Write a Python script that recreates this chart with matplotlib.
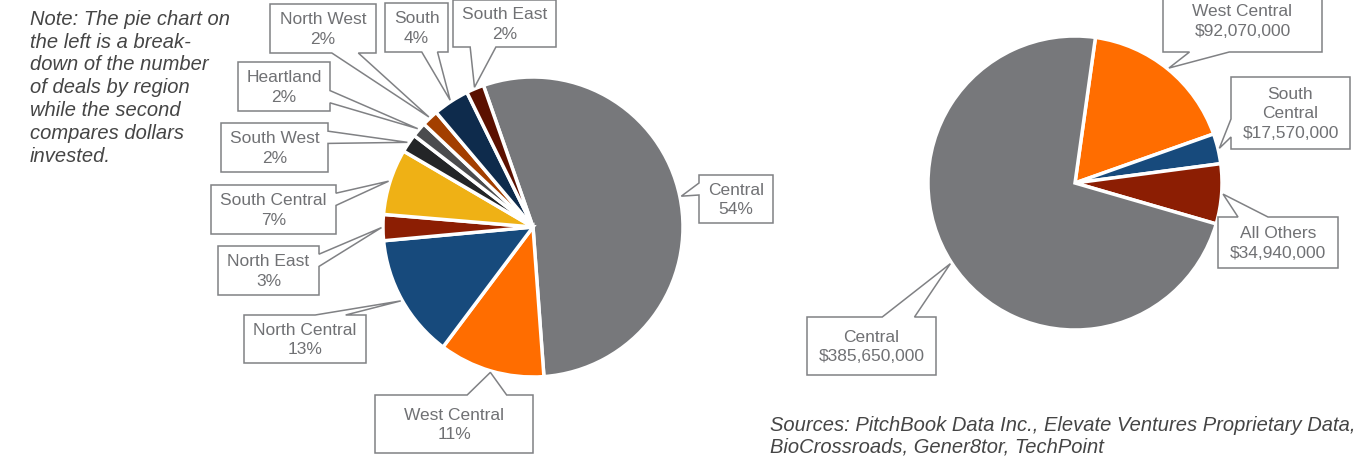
import matplotlib
matplotlib.use("Agg")
import matplotlib.pyplot as plt
from matplotlib.patches import Polygon
import numpy as np

# deals by region (share of deal count, %)
deal_regions = ['Central', 'West Central', 'North Central', 'North East', 'South Central',
                'South West', 'Heartland', 'North West', 'South', 'South East']
deal_share = [54.2, 11.4, 13.3, 2.8, 7.1, 2.0, 1.6, 1.8, 3.9, 1.9]
deal_colors = ['#77787b', '#ff6d00', '#174a7c', '#8c1e03', '#efb115',
               '#232527', '#4b4c4e', '#a33f00', '#0e2b4c', '#5b1000']

# dollars invested by region
invest_regions = ['West Central', 'South Central', 'All Others', 'Central']
invest_names = ['West Central', 'South\nCentral', 'All Others', 'Central']
invest_dollars = [92070000, 17570000, 34940000, 385650000]
invest_colors = ['#ff6d00', '#174a7c', '#8c1e03', '#77787b']

note_text = ("Note: The pie chart on\nthe left is a break-\ndown of the number\n"
             "of deals by region\nwhile the second\ncompares dollars\ninvested.")
source_text = ("Sources: PitchBook Data Inc., Elevate Ventures Proprietary Data,\n"
               "BioCrossroads, Gener8tor, TechPoint")

# layout, in pixels from the top-left corner
W, H = 1366, 460
left_pie = (533, 228, 150)
right_pie = (1075, 184, 147)
left_boxes = {
    'Central': (699, 176, 773, 224),
    'West Central': (375, 396, 533, 454),
    'North Central': (244, 316, 366, 364),
    'North East': (218, 247, 319, 296),
    'South Central': (211, 186, 336, 235),
    'South West': (221, 124, 328, 173),
    'Heartland': (238, 63, 330, 112),
    'North West': (270, 5, 376, 54),
    'South': (385, 4, 448, 53),
    'South East': (453, 1, 556, 48),
}
right_boxes = {
    'West Central': (1163, -10, 1322, 53),
    'South Central': (1231, 78, 1350, 150),
    'All Others': (1218, 218, 1338, 269),
    'Central': (807, 318, 936, 376),
}

LABEL_COLOR = '#707174'
BOX_EDGE = '#808184'
TEXT_DARK = '#454545'
FONT = 'Liberation Sans'


def callout(ax, box, tip, text):
    # rectangle callout with a wedge pointer, like the office chart callouts
    x0, y0, x1, y1 = box
    w, h = x1 - x0, y1 - y0
    hc, vc = (x0 + x1) / 2, (y0 + y1) / 2
    tx, ty = tip
    dxp, dyp = tx - hc, ty - vc
    top = [(x0, y0), (x1, y0)]
    right = [(x1, y1)]
    bottom = [(x0, y1)]
    if abs(dxp * h) > abs(dyp * w):
        a, b = (y0 + h * 7 / 12, y0 + h * 5 / 6) if dyp > 0 else (y0 + h / 6, y0 + h * 5 / 12)
        if dxp > 0:
            pts = top + [(x1, a), tip, (x1, b)] + right + bottom
        else:
            pts = top + right + bottom + [(x0, b), tip, (x0, a)]
    else:
        a, b = (x0 + w * 7 / 12, x0 + w * 5 / 6) if dxp > 0 else (x0 + w / 6, x0 + w * 5 / 12)
        if dyp > 0:
            pts = top + right + [(b, y1), tip, (a, y1)] + bottom
        else:
            pts = [(x0, y0), (a, y0), tip, (b, y0), (x1, y0)] + right + bottom
    poly = Polygon([(px, H - py) for px, py in pts], closed=True, facecolor='white',
                   edgecolor=BOX_EDGE, linewidth=1.1, zorder=3, joinstyle='miter')
    ax.add_patch(poly)
    ax.text(hc, H - vc, text, ha='center', va='center', fontsize=12.5, family=FONT,
            color=LABEL_COLOR, linespacing=1.4, zorder=4)


def draw_pie(ax, values, colors, pie, startangle, labels, boxes):
    cx, cy, r = pie
    wedges, _ = ax.pie(values, colors=colors, startangle=startangle, counterclock=False,
                       center=(cx, H - cy), radius=r, frame=True,
                       wedgeprops=dict(edgecolor='white', linewidth=2.5))
    for wdg, key, text in zip(wedges, boxes.keys(), labels):
        mid = np.deg2rad((wdg.theta1 + wdg.theta2) / 2)
        tip = (cx + r * 1.01 * np.cos(mid), cy - r * 1.01 * np.sin(mid))
        callout(ax, boxes[key], tip, text)


fig = plt.figure(figsize=(W / 100, H / 100), dpi=100)
ax = fig.add_axes([0, 0, 1, 1])

total_deals = sum(deal_share)
deal_labels = [f"{name}\n{v / total_deals * 100:.0f}%" for name, v in zip(deal_regions, deal_share)]
draw_pie(ax, deal_share, deal_colors, left_pie, 109.3, deal_labels,
         {k: left_boxes[k] for k in deal_regions})

invest_labels = [f"{name}\n${v:,}" for name, v in zip(invest_names, invest_dollars)]
draw_pie(ax, invest_dollars, invest_colors, right_pie, 82, invest_labels,
         {k: right_boxes[k] for k in invest_regions})

ax.text(30, H - 10, note_text, ha='left', va='top', fontsize=14.5, style='italic',
        family=FONT, color=TEXT_DARK, linespacing=1.25)
ax.text(770, H - 416, source_text, ha='left', va='top', fontsize=14.5, style='italic',
        family=FONT, color=TEXT_DARK, linespacing=1.2)

ax.set_xlim(0, W)
ax.set_ylim(0, H)
ax.axis('off')

fig.savefig('out.png', dpi=100, facecolor='white')
